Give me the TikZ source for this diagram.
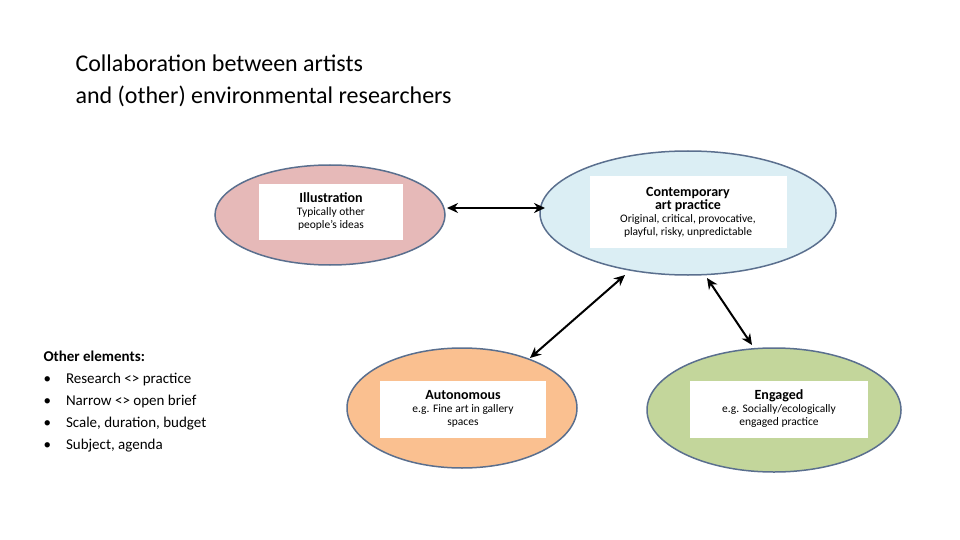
\documentclass[tikz,border=0pt]{standalone}
\usepackage{fontspec}
\setmainfont{Carlito}
\usetikzlibrary{arrows.meta}
\definecolor{edge}{HTML}{5A6F8E}
\definecolor{pinkf}{HTML}{E6B9B8}
\definecolor{bluef}{HTML}{DBEEF4}
\definecolor{orangef}{HTML}{FAC090}
\definecolor{greenf}{HTML}{C3D69B}
\begin{document}
\begin{tikzpicture}[x=1pt,y=-1pt,
 ell/.style={draw=edge,line width=1.5pt},
 box/.style={fill=white,draw=none,align=center,font=\fontsize{11.5}{13}\selectfont,inner sep=0pt},
 hd/.style={font=\bfseries\fontsize{14}{15}\selectfont},
 arr/.style={{Stealth[length=11pt,width=10pt]}-{Stealth[length=11pt,width=10pt]},line width=2pt}]
\useasboundingbox (0,0) rectangle (960,540);
\node[anchor=west,align=left,font=\fontsize{24}{32}\selectfont] (title) at (72,81) {Collaboration between artists\\and (other) environmental researchers};
\filldraw[ell,fill=pinkf] (330,215) ellipse (115 and 50);
\filldraw[ell,fill=bluef] (688,213) ellipse (148 and 62);
\filldraw[ell,fill=orangef] (462,408) ellipse (115 and 60);
\filldraw[ell,fill=greenf] (774,410) ellipse (127 and 62);
\node[box,minimum width=144,minimum height=56] (ill) at (331,212) {{\bfseries\fontsize{14}{15}\selectfont Illustration}\\Typically other\\people's ideas};
\node[box,minimum width=197,minimum height=71] (con) at (688,212) {{\bfseries\fontsize{14}{15}\selectfont Contemporary}\\{\bfseries\fontsize{14}{15}\selectfont art practice}\\Original, critical, provocative,\\playful, risky, unpredictable};
\node[box,minimum width=166,minimum height=57] (aut) at (463,409) {{\bfseries\fontsize{14}{15}\selectfont Autonomous}\\e.g. Fine art in gallery\\spaces};
\node[box,minimum width=178,minimum height=57] (eng) at (779,409) {{\bfseries\fontsize{14}{15}\selectfont Engaged}\\e.g. Socially/ecologically\\engaged practice};
\coordinate (a1) at (447,208); \coordinate (a2) at (545,208);
\coordinate (b1) at (625,275); \coordinate (b2) at (530,358);
\coordinate (c1) at (707,278); \coordinate (c2) at (752,345);
\draw[arr] (a1) -- (a2);
\draw[arr] (b1) -- (b2);
\draw[arr] (c1) -- (c2);
\node[anchor=north west,align=left,font=\fontsize{15}{22}\selectfont] (oth) at (40,347) {\textbf{Other elements:}\\
•\hspace{15pt}Research <> practice\\•\hspace{15pt}Narrow <> open brief\\•\hspace{15pt}Scale, duration, budget\\•\hspace{15pt}Subject, agenda};
\end{tikzpicture}
\end{document}
